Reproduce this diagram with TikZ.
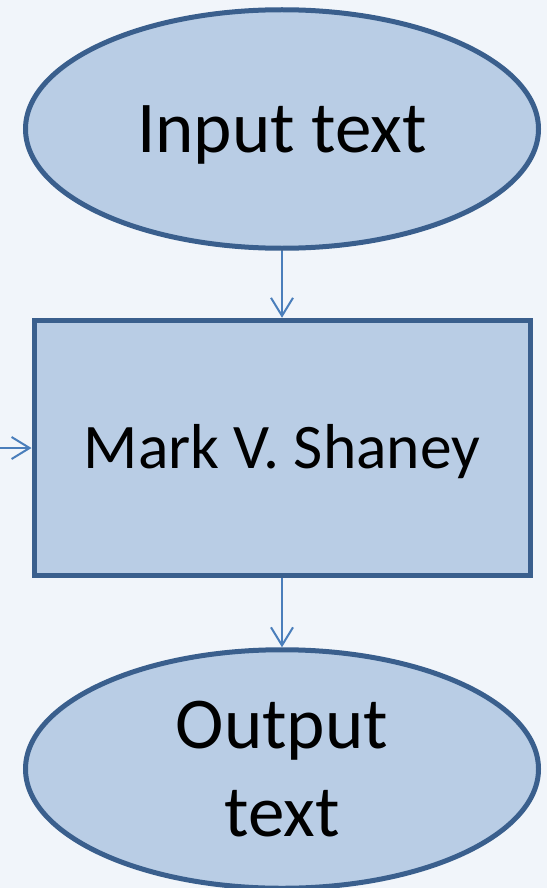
\documentclass[tikz,border=0pt]{standalone}
\usepackage{fontspec}
\setmainfont{Carlito}
\usetikzlibrary{shapes.geometric,arrows.meta}
\definecolor{bgc}{HTML}{F1F5FA}
\definecolor{fillc}{HTML}{B9CDE5}
\definecolor{linec}{HTML}{3A5F8D}
\definecolor{arrc}{HTML}{4A7EBB}
\tikzset{
  oval/.style={ellipse, draw=linec, fill=fillc, line width=5pt, inner sep=0pt,
    minimum width=513pt, minimum height=238.5pt, align=center,
    font=\fontsize{73}{88}\selectfont},
  procbox/.style={rectangle, draw=linec, fill=fillc, line width=5pt, inner sep=0pt,
    minimum width=496pt, minimum height=255.5pt,
    font=\fontsize{63.5}{76}\selectfont, text height=41pt, text depth=0pt},
  conn/.style={draw=arrc, line width=2pt, -{Straight Barb[length=18pt,width=22pt,line width=2pt]}}
}
\begin{document}
\begin{tikzpicture}[x=1pt,y=-1pt]
  \fill[bgc] (0,0) rectangle (547,888);
  \useasboundingbox (0,0) rectangle (547,888);
  \node[oval, text height=47pt, text depth=0pt] (in) at (282,129) {Input text};
  \node[procbox] (mvs) at (282,448) {Mark V. Shaney};
  \node[oval, text height=135pt, text depth=0pt] (out) at (282,769) {Output\\text};
  \coordinate (src) at (0,448);
  \draw[conn] (in) -- (mvs);
  \draw[conn] (mvs) -- (out);
  \draw[conn] (src) -- (mvs);
\end{tikzpicture}
\end{document}
